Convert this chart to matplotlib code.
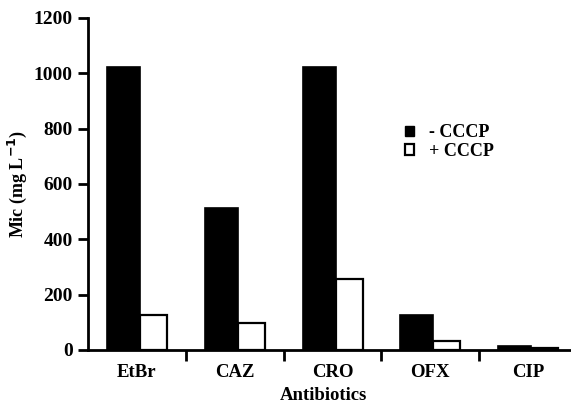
import numpy as np
import matplotlib.pyplot as plt
from matplotlib.patches import Patch

antibiotics = ['EtBr', 'CAZ', 'CRO', 'OFX', 'CIP']
minus_cccp = [1024, 512, 1024, 128, 16]
plus_cccp = [128, 96, 256, 32, 8]
y_ticks = [0, 200, 400, 600, 800, 1000, 1200]

plt.rcParams['font.family'] = ['Liberation Serif', 'DejaVu Serif']
plt.rcParams['font.weight'] = 'bold'

fig = plt.figure(figsize=(5.71, 4.05), dpi=100)
W, H = 571, 405
ax = fig.add_axes([88 / W, 1 - 350 / H, (577 - 88) / W, (350 - 18) / H])

x = np.arange(len(antibiotics))
ax.bar(x - 0.306, minus_cccp, width=0.337, align='edge',
       color='black', edgecolor='black', linewidth=1.2)
ax.bar(x + 0.031, plus_cccp, width=0.276, align='edge',
       color='white', edgecolor='black', linewidth=1.6)

ax.set_xlim(-0.5, 4.5)
ax.set_ylim(0, 1200)
ax.set_yticks(y_ticks)
ax.set_yticklabels([str(v) for v in y_ticks], fontsize=14, fontweight='bold')

# category ticks sit on the boundaries, labels in the middle
ax.set_xticks(np.arange(0.5, 4.5, 1.0))
ax.set_xticklabels([])
ax.set_xticks(x, minor=True)
ax.set_xticklabels(antibiotics, minor=True, fontsize=13.5, fontweight='bold')
ax.tick_params(axis='x', which='minor', length=0, pad=10)
ax.tick_params(axis='x', which='major', direction='out', length=8, width=2)
ax.tick_params(axis='y', direction='out', length=7, width=2, pad=4)

for s in ['top', 'right']:
    ax.spines[s].set_visible(False)
ax.spines['left'].set_linewidth(2)
ax.spines['bottom'].set_linewidth(2)

ax.set_ylabel('Mic (mg L$^{\\mathbf{-1}}$)', fontsize=13, fontweight='bold', labelpad=3)
fig.text(323 / W, 1 - 396 / H, 'Antibiotics', fontsize=13.5, fontweight='bold',
         ha='center', va='center')

handles = [Patch(facecolor='black', edgecolor='black'),
           Patch(facecolor='white', edgecolor='black', linewidth=1.6)]
leg = ax.legend(handles, ['- CCCP', '+ CCCP'], loc='upper left',
                bbox_to_anchor=((398 - 88) / (577 - 88), 1 - (117 - 18) / 332),
                frameon=False, fontsize=13, handlelength=0.5, handleheight=0.5,
                handletextpad=0.8, labelspacing=0.1, borderaxespad=0)

fig.savefig('out.png', dpi=100)
